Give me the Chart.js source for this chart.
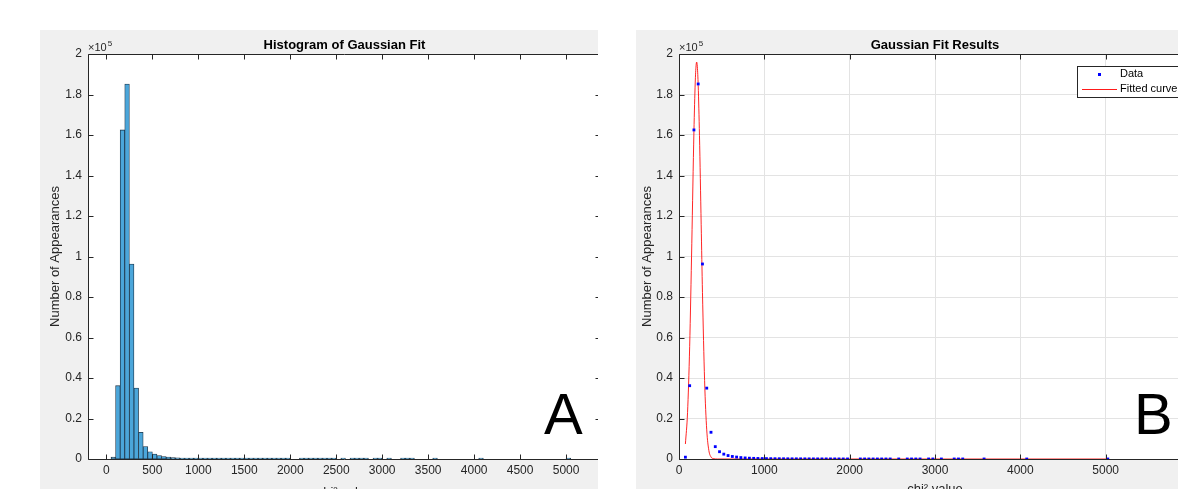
<!DOCTYPE html>
<html>
<head>
<meta charset="utf-8">
<script src="https://cdn.jsdelivr.net/npm/chart.js@4.4.1/dist/chart.umd.min.js"></script>
<style>
  html, body { margin: 0; padding: 0; background: #fff; overflow: hidden; }
  body { width: 1178px; height: 489px; position: relative; }
  .panel { position: absolute; top: 30px; height: 459px; background: #f0f0f0; overflow: hidden; }
  #panelA { left: 40px; width: 558px; }
  #panelB { left: 636px; width: 542px; }
  canvas { position: absolute; left: 0; top: 0; }
</style>
</head>
<body>
<div class="panel" id="panelA"><canvas id="histA" width="575" height="480"></canvas></div>
<div class="panel" id="panelB"><canvas id="fitB" width="575" height="480"></canvas></div>
<script>
// centres of the non-empty 50-wide chi^2 bins
const binCenters = [75, 125, 175, 225, 275, 325, 375, 425, 475, 525, 575, 625, 675, 725, 775,
  825, 875, 925, 975, 1025, 1075, 1125, 1175, 1225, 1275, 1325, 1375, 1425, 1475, 1525,
  1575, 1625, 1675, 1725, 1775, 1825, 1875, 1925, 1975, 2125, 2175, 2225, 2275, 2325,
  2375, 2425, 2475, 2575, 2675, 2725, 2775, 2825, 2925, 2975, 3075, 3225, 3275, 3325,
  3575, 4075, 5025];
const binCounts = [900, 36200, 162500, 185200, 96300, 35000, 13200, 6100, 3600, 2400, 1700,
  1250, 950, 700, 520, 400, 320, 260, 215, 180, 150, 130, 115, 100, 90, 80, 72, 65, 58,
  52, 47, 42, 38, 34, 30, 27, 24, 21, 18, 9, 8, 8, 7, 6, 6, 5, 5, 4, 4, 3, 3, 3, 3, 2, 2,
  2, 2, 2, 1, 1, 1];

// fitted gaussian
const fitX = [75, 100, 125, 150, 175, 190, 200, 207, 215, 225, 240, 260, 275, 300, 325, 350,
  375, 400, 450, 1000, 2000, 3000, 4000, 5025];
const fitY = [7400, 22900, 55500, 106500, 161700, 185700, 194200, 196000, 193700, 184400,
  159700, 115700, 82300, 38700, 14400, 4200, 1000, 200, 0, 0, 0, 0, 0, 0];

const xTicksA = [0, 500, 1000, 1500, 2000, 2500, 3000, 3500, 4000, 4500, 5000];
const xTicksB = [0, 1000, 2000, 3000, 4000, 5000, 6000];
const yTicks = [0, 20000, 40000, 60000, 80000, 100000, 120000, 140000, 160000, 180000, 200000];
const yTickLabels = ['0', '0.2', '0.4', '0.6', '0.8', '1', '1.2', '1.4', '1.6', '1.8', '2'];

const FONT = "'Liberation Sans', Arial, Helvetica, sans-serif";
const AXIS = '#262626';
Chart.defaults.font.family = FONT;
Chart.defaults.color = AXIS;

// matlab-ish decorations: white axes, box, inward ticks, title, x10^5, letter, legend
const matlabFrame = {
  id: 'matlabFrame',
  beforeDraw(chart) {
    const { ctx, chartArea: a } = chart;
    ctx.save();
    ctx.fillStyle = '#fff';
    ctx.fillRect(a.left, a.top, a.width, a.height);
    ctx.restore();
  },
  afterDatasetsDraw(chart, args, opts) {
    const { ctx, chartArea: a, scales: { x, y } } = chart;
    const L = Math.round(a.left) + 0.5, R = Math.round(a.right) - 0.5;
    const T = Math.round(a.top) + 0.5, B = Math.round(a.bottom) + 0.5;
    ctx.save();
    ctx.strokeStyle = AXIS;
    ctx.lineWidth = 1;
    ctx.beginPath();
    ctx.rect(L, T, R - L, B - T);
    x.ticks.forEach(t => {
      const px = Math.round(x.getPixelForValue(t.value)) + 0.5;
      ctx.moveTo(px, B); ctx.lineTo(px, B - 5);
      ctx.moveTo(px, T); ctx.lineTo(px, T + 5);
    });
    y.ticks.forEach(t => {
      const py = Math.round(y.getPixelForValue(t.value)) + 0.5;
      ctx.moveTo(L, py); ctx.lineTo(L + 5, py);
      ctx.moveTo(R, py); ctx.lineTo(R - 5, py);
    });
    ctx.stroke();

    // title
    ctx.fillStyle = '#000';
    ctx.font = 'bold 13px ' + FONT;
    ctx.textAlign = 'center';
    ctx.textBaseline = 'middle';
    ctx.fillText(opts.title, (a.left + a.right) / 2, a.top - 9);

    // exponent
    ctx.fillStyle = AXIS;
    ctx.textAlign = 'left';
    ctx.textBaseline = 'alphabetic';
    ctx.font = '11px ' + FONT;
    ctx.fillText('×10', a.left, a.top - 3);
    const w = ctx.measureText('×10').width;
    ctx.font = '8px ' + FONT;
    ctx.fillText('5', a.left + w + 1, a.top - 8);

    // panel letter
    ctx.fillStyle = '#000';
    ctx.font = '58px ' + FONT;
    ctx.fillText(opts.letter, a.right - 57, a.bottom - 25);

    if (opts.legend) {
      const lx = Math.round(a.right) - 114, ly = Math.round(a.top) + 12;
      ctx.fillStyle = '#fff';
      ctx.fillRect(lx, ly, 140, 31);
      ctx.strokeStyle = AXIS;
      ctx.strokeRect(lx + 0.5, ly + 0.5, 140, 31);
      const ds = chart.data.datasets;
      ctx.fillStyle = ds[0].backgroundColor;
      ctx.fillRect(lx + 21, ly + 7, 3, 3);
      ctx.fillStyle = '#ff1a1a';
      ctx.fillRect(lx + 5, ly + 23, 35, 1);
      ctx.fillStyle = '#000';
      ctx.font = '11px ' + FONT;
      ctx.textBaseline = 'middle';
      ctx.fillText(ds[0].label, lx + 43, ly + 8);
      ctx.fillText(ds[1].label, lx + 43, ly + 23);
    }
    ctx.restore();
  }
};

function yScale(width, titlePad) {
  return {
    min: 0, max: 200000,
    grid: { display: false, drawTicks: false },
    border: { display: false },
    afterBuildTicks: s => { s.ticks = yTicks.map(v => ({ value: v })); },
    ticks: { padding: 6, font: { size: 12 }, callback: v => yTickLabels[yTicks.indexOf(v)] },
    title: { display: true, text: 'Number of Appearances', font: { size: 13 }, padding: { top: titlePad } },
    afterFit: s => { s.width = width; }
  };
}

function xScale(ticks, min, max, titlePad) {
  return {
    type: 'linear', min: min, max: max, offset: false,
    grid: { display: false, offset: false, drawTicks: false },
    border: { display: false },
    afterBuildTicks: s => { s.ticks = ticks.map(v => ({ value: v })); },
    ticks: { padding: 4, font: { size: 12 }, maxRotation: 0, autoSkip: false, callback: v => String(v) },
    title: { display: true, text: 'chi² value', font: { size: 13 }, padding: { bottom: titlePad } },
    afterFit: s => { s.height = 51; }
  };
}

new Chart(document.getElementById('histA'), {
  type: 'bar',
  data: {
    datasets: [{
      label: 'Counts',
      data: binCenters.map((c, i) => ({ x: c, y: binCounts[i] })),
      backgroundColor: '#4ba6da',
      borderColor: '#1d3346',
      borderWidth: 0.8,
      borderSkipped: false,
      minBarLength: 1,
      barPercentage: 1,
      categoryPercentage: 1,
      grouped: false
    }]
  },
  options: {
    responsive: false,
    animation: false,
    layout: { padding: { top: 24, right: 14, left: 0, bottom: 0 } },
    plugins: {
      legend: { display: false },
      tooltip: { enabled: false },
      matlabFrame: { title: 'Histogram of Gaussian Fit', letter: 'A' }
    },
    scales: {
      x: xScale(xTicksA, -200, 5380, 10),
      y: yScale(48, 8)
    }
  },
  plugins: [matlabFrame]
});

new Chart(document.getElementById('fitB'), {
  type: 'scatter',
  data: {
    datasets: [{
      label: 'Data',
      data: binCenters.map((c, i) => ({ x: c, y: binCounts[i] })),
      backgroundColor: '#0000ff',
      borderWidth: 0,
      pointStyle: 'rect',
      pointRadius: 2,
      order: 1
    }, {
      label: 'Fitted curve',
      type: 'line',
      data: fitX.map((v, i) => ({ x: v, y: fitY[i] })),
      borderColor: 'rgba(255, 0, 0, 0.85)',
      borderWidth: 1,
      pointRadius: 0,
      cubicInterpolationMode: 'monotone',
      clip: 4,
      order: 2
    }]
  },
  options: {
    responsive: false,
    animation: false,
    layout: { padding: { top: 24, right: 20, left: 0, bottom: 0 } },
    plugins: {
      legend: { display: false },
      tooltip: { enabled: false },
      matlabFrame: { title: 'Gaussian Fit Results', letter: 'B', legend: true }
    },
    scales: {
      x: Object.assign(xScale(xTicksB, 0, 6000, 13), {
        grid: { display: true, color: '#e3e3e3', drawTicks: false, offset: false }
      }),
      y: Object.assign(yScale(43, 4), {
        grid: { display: true, color: '#e3e3e3', drawTicks: false }
      })
    }
  },
  plugins: [matlabFrame]
});
</script>
</body>
</html>
